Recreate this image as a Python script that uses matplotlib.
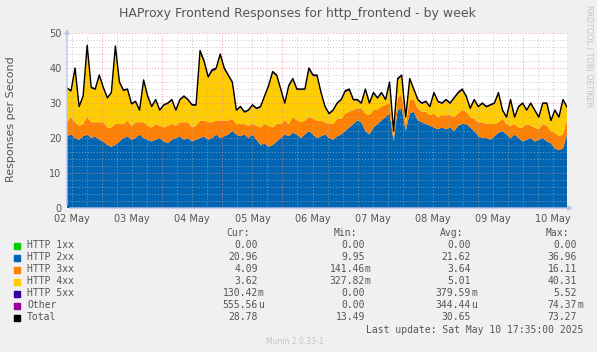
import numpy as np
import matplotlib
matplotlib.use("Agg")
import matplotlib.pyplot as plt
from matplotlib.patches import Rectangle

W, H = 597, 352

# time axis in days since 02 May 00:00 (graph runs 02 May 10:00 -> 10 May 17:35)
t_start = 10 / 24
t_end = 8 + (17 + 35 / 60) / 24

http_2xx = [20.5, 21, 20, 19.5, 20.5, 21, 20, 20.5, 19.5, 19, 18, 17.5, 18, 19, 20, 20.5, 19.5, 20, 21, 20, 19.5,
            19, 19.5, 20, 19, 18.5, 19.5, 20, 20.5, 19.5, 20, 19, 19.5, 20, 20.5, 19.5, 20, 21, 20, 20.5, 21, 22,
            21, 20.5, 21, 20, 21, 19.5, 18, 18.5, 17.5, 18, 19, 20, 21, 20.5, 21.5, 21, 20, 21, 22, 21, 20,
            20.5, 21, 20, 19.5, 20.5, 21, 22, 23, 24, 25, 24.5, 22, 21, 23, 24, 25, 26, 27, 19, 28, 28.5,
            22, 27, 27.5, 25, 24.5, 24, 23.5, 23, 22.5, 23, 22.5, 23, 22, 23.5, 24, 24, 23, 22, 20.5, 20, 20,
            19.5, 20.5, 21.5, 22, 21, 20, 21, 20, 19, 19.5, 20, 19, 19.5, 20, 19, 18.5, 17, 16.5, 17, 21]
http_3xx = [4, 5, 4.5, 4, 3.5, 5, 4.5, 4, 5, 5.5, 5, 5.5, 6, 5, 4, 4.5, 4, 4.5, 3.5, 4.5, 4,
            4, 4.5, 3.5, 4, 5, 4.5, 3.5, 4, 5, 4.5, 4, 4, 5, 4.5, 5, 4.5, 4, 5, 4.5, 4, 3.5,
            3, 3.5, 3, 3.5, 3, 4, 5, 5.5, 6, 5, 5, 4, 4, 3.5, 4.5, 4, 4.5, 4, 4, 4.5, 5,
            4.5, 3.5, 4, 4.5, 5, 4.5, 5, 4.5, 4, 3.5, 4, 5, 5.5, 5, 4, 4, 3.5, 3, 1.5, 3.5, 4,
            2, 4, 3.5, 3.5, 3, 3.5, 3, 4, 3.5, 3.5, 4, 3.5, 4, 3.5, 4, 3.5, 3, 3.5, 4, 4.5, 4,
            4.5, 3.5, 3, 3.5, 3, 3.5, 3, 3, 4, 4.5, 3.5, 4, 3, 4, 4.5, 3.5, 4.5, 4, 4, 4.1]
http_4xx = [9.5, 7.2, 15.1, 5.2, 7.7, 20, 9.7, 9.2, 13.1, 9.7, 8.2, 9.7, 21.8, 11.7, 9.4, 8.7, 6, 5.7, 3.2, 11.7, 8.2,
            5.7, 6.7, 4.2, 6.2, 6.2, 6.7, 4.2, 6.2, 7.2, 6.2, 6.2, 5.7, 19.4, 16.4, 12.6, 14.5, 14.5, 18.4, 14.5, 12.6, 10.1,
            3.7, 4.7, 3.2, 4.2, 5.2, 4.7, 5.7, 7.7, 11.1, 15.6, 13.6, 9.7, 4.7, 10.6, 10.6, 8.7, 9.2, 8.7, 13.5, 12.1, 12.6,
            7.7, 4.2, 2.7, 3.7, 4.2, 5.2, 6.1, 6.1, 2.7, 2.2, 1.2, 6.6, 3.2, 4.6, 3.2, 3.6, 1.2, 5.6, 1.3, 5.1, 5.1,
            1.7, 5.6, 2.7, 2.2, 2.2, 2.7, 2.2, 5.6, 4.2, 3.2, 4.2, 3.2, 5.2, 5.6, 5.6, 4.2, 2.2, 5.2, 4.2, 5.2, 4.7,
            5.2, 5.7, 8.1, 2.2, 1.7, 7.2, 1.7, 5.7, 6.7, 3.7, 6.2, 4.7, 3.2, 5.7, 6.2, 2.7, 6.2, 5.2, 9.7, 3.6]
http_5xx = [0.3, 0.3, 0.4, 0.3, 0.3, 0.5, 0.3, 0.3, 0.4, 0.3, 0.3, 0.3, 0.5, 0.3, 0.3, 0.3, 0.3, 0.3, 0.3, 0.4, 0.3,
            0.3, 0.3, 0.3, 0.3, 0.3, 0.3, 0.3, 0.3, 0.3, 0.3, 0.3, 0.3, 0.6, 0.6, 0.4, 0.5, 0.5, 0.6, 0.5, 0.4, 0.4,
            0.3, 0.3, 0.3, 0.3, 0.3, 0.3, 0.3, 0.3, 0.4, 0.4, 0.4, 0.3, 0.3, 0.4, 0.4, 0.3, 0.3, 0.3, 0.5, 0.4, 0.4,
            0.3, 0.3, 0.3, 0.3, 0.3, 0.3, 0.4, 0.4, 0.3, 0.3, 0.3, 0.4, 0.3, 0.4, 0.3, 0.4, 0.3, 0.4, 0.2, 0.4, 0.4,
            0.3, 0.4, 0.3, 0.3, 0.3, 0.3, 0.3, 0.4, 0.3, 0.3, 0.3, 0.3, 0.3, 0.4, 0.4, 0.3, 0.3, 0.3, 0.3, 0.3, 0.3,
            0.3, 0.3, 0.4, 0.3, 0.3, 0.3, 0.3, 0.3, 0.3, 0.3, 0.3, 0.3, 0.3, 0.3, 0.3, 0.3, 0.3, 0.3, 0.3, 0.13]

day_labels = ["02 May", "03 May", "04 May", "05 May", "06 May",
              "07 May", "08 May", "09 May", "10 May"]

legend_names = ["HTTP 1xx", "HTTP 2xx", "HTTP 3xx", "HTTP 4xx", "HTTP 5xx", "Other", "Total"]
legend_colors = ["#00CC00", "#0066B3", "#FF8000", "#FFCC00", "#330099", "#990099", "#000000"]
cur_vals = ["0.00", "20.96", "4.09", "3.62", "130.42m", "555.56u", "28.78"]
min_vals = ["0.00", "9.95", "141.46m", "327.82m", "0.00", "0.00", "13.49"]
avg_vals = ["0.00", "21.62", "3.64", "5.01", "379.59m", "344.44u", "30.65"]
max_vals = ["0.00", "36.96", "16.11", "40.31", "5.52", "74.37m", "73.27"]

txt = "#555555"
axis_col = "#b8c4e8"

n = len(http_2xx)
t = np.linspace(t_start, t_end, n)
zeros = np.zeros(n)
total = np.array(http_2xx) + np.array(http_3xx) + np.array(http_4xx) + np.array(http_5xx)

fig = plt.figure(figsize=(W / 100, H / 100), dpi=100, facecolor="#F0F0F0")
ax = fig.add_axes([67 / W, 1 - 208 / H, 500 / W, 175 / H])
ax.set_facecolor("white")

ax.stackplot(t, zeros, http_2xx, http_3xx, http_4xx, http_5xx,
             colors=legend_colors[:5], linewidth=0, zorder=1)
ax.plot(t, total, color="black", lw=1.0, zorder=4)

ax.set_xlim(t_start, t_end)
ax.set_ylim(0, 50)

# rrdtool style grid drawn over the areas
for d in np.arange(0.5, 9, 0.25):
    if t_start < d < t_end and d % 1 != 0:
        ax.axvline(d, color="#b0b0b0", lw=0.7, ls=(0, (1, 2)), alpha=0.7, zorder=3)
for d in range(1, 9):
    ax.axvline(d, color="#f08080", lw=0.7, ls=(0, (1, 2)), alpha=0.8, zorder=3)
for v in range(2, 51, 2):
    if v % 10:
        ax.axhline(v, color="#b0b0b0", lw=0.7, ls=(0, (1, 2)), alpha=0.7, zorder=3)
for v in range(10, 51, 10):
    ax.axhline(v, color="#f08080", lw=0.7, ls=(0, (1, 2)), alpha=0.8, zorder=3)

for s in ax.spines.values():
    s.set_visible(False)
ax.annotate("", xy=(1.018, 0), xytext=(0, 0), xycoords="axes fraction",
            arrowprops=dict(arrowstyle="-|>", color=axis_col, lw=1, mutation_scale=7), zorder=5)
ax.annotate("", xy=(0, 1.04), xytext=(0, 0), xycoords="axes fraction",
            arrowprops=dict(arrowstyle="-|>", color=axis_col, lw=1, mutation_scale=7), zorder=5)

ax.set_xticks(np.arange(0.5, 9, 1))
ax.set_xticklabels(day_labels)
ax.set_yticks(range(0, 51, 10))
ax.tick_params(axis="both", length=0, labelsize=7, colors=txt, pad=4)

fig.text(297 / W, 1 - 13 / H, "HAProxy Frontend Responses for http_frontend - by week",
         ha="center", va="center", fontsize=9, color=txt)
fig.text(11 / W, 1 - 119 / H, "Responses per Second", rotation=90,
         ha="center", va="center", fontsize=8, color=txt)
fig.text(589 / W, 1 - 5 / H, "RRDTOOL / TOBI OETIKER", rotation=270,
         ha="center", va="top", fontsize=5.8, color="#c4c4c4")

# legend table
mono = "DejaVu Sans Mono"
fs = 7
row_y = [245.5, 257.5, 269.5, 281.5, 293.5, 305.5, 317.5]
col_edge = [258, 365, 471, 577]
headers = ["Cur:", "Min:", "Avg:", "Max:"]
for x, h in zip(col_edge, headers):
    fig.text((x - 8) / W, 1 - 233 / H, h, ha="right", va="center",
             fontsize=fs, family=mono, color=txt)

for i, name in enumerate(legend_names):
    y = row_y[i]
    fig.add_artist(Rectangle((14 / W, 1 - (y + 3) / H), 6 / W, 6 / H,
                             color=legend_colors[i], transform=fig.transFigure))
    fig.text(27 / W, 1 - y / H, name, ha="left", va="center",
             fontsize=fs, family=mono, color=txt)
    for x, col in zip(col_edge, [cur_vals, min_vals, avg_vals, max_vals]):
        s = col[i]
        suffix = ""
        if s[-1].isalpha():
            s, suffix = s[:-1], s[-1]
        fig.text(x / W, 1 - y / H, s, ha="right", va="center",
                 fontsize=fs, family=mono, color=txt)
        if suffix:
            fig.text(x / W, 1 - y / H, suffix, ha="left", va="center",
                     fontsize=fs, family=mono, color=txt)

fig.text(583 / W, 1 - 330 / H, "Last update: Sat May 10 17:35:00 2025",
         ha="right", va="center", fontsize=fs, family=mono, color=txt)
fig.text(295 / W, 1 - 341 / H, "Munin 2.0.33-1", ha="center", va="center",
         fontsize=5.5, color="#c4c4c4")

fig.savefig("out.png", dpi=100, facecolor=fig.get_facecolor())
